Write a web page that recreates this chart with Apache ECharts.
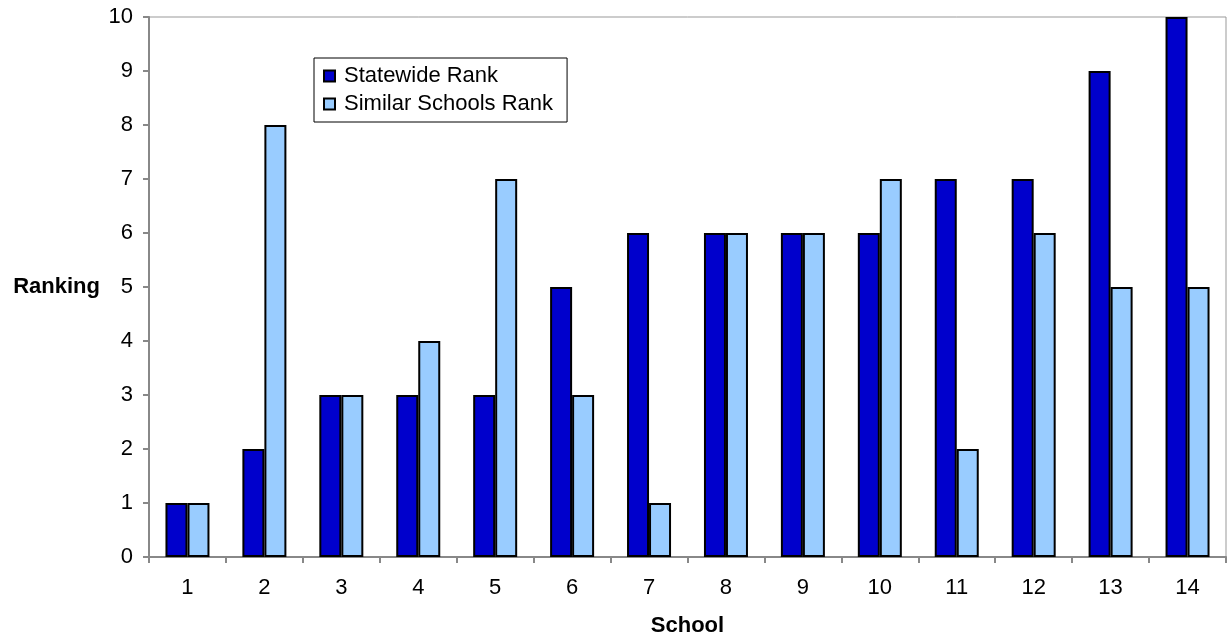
<!DOCTYPE html>
<html><head><meta charset="utf-8">
<script src="https://cdn.jsdelivr.net/npm/echarts@6/dist/echarts.min.js"></script>
<style>html,body{margin:0;padding:0;background:#fff}#c{width:1228px;height:635px}</style>
</head><body><div id="c"></div>
<script>
var categories = ['1','2','3','4','5','6','7','8','9','10','11','12','13','14'];
var statewide = [1,2,3,3,3,5,6,6,6,6,7,7,9,10];
var similar = [1,8,3,4,7,3,1,6,6,7,2,6,5,5];
var chart = echarts.init(document.getElementById('c'));
var font = 'Liberation Sans, Arial, sans-serif';
chart.setOption({
  animation: false,
  textStyle: {fontFamily: font},
  grid: {left: 149, right: 2, top: 17, bottom: 78, show: true, borderColor: '#999', borderWidth: 1,
         containLabel: false, outerBoundsMode: 'none'},
  legend: {
    left: 314, top: 58, orient: 'vertical', itemWidth: 11, itemHeight: 11, itemGap: 6,
    borderColor: '#000', borderWidth: 1, padding: [7, 14, 7, 9],
    textStyle: {fontFamily: font, fontSize: 22, color: '#000', padding: [0, 0, 0, 4]},
    data: [{name: 'Statewide Rank', icon: 'rect'}, {name: 'Similar Schools Rank', icon: 'rect'}]
  },
  xAxis: {
    type: 'category', data: categories,
    name: 'School', nameLocation: 'middle', nameGap: 58,
    nameTextStyle: {fontFamily: font, fontSize: 22, fontWeight: 'bold', color: '#000'},
    axisLine: {lineStyle: {color: '#888', width: 2}},
    axisTick: {show: true, length: 6, lineStyle: {color: '#888', width: 2}},
    axisLabel: {fontFamily: font, fontSize: 22, color: '#000', margin: 20}
  },
  yAxis: {
    type: 'value', min: 0, max: 10, interval: 1,
    name: 'Ranking', nameLocation: 'middle', nameRotate: 0, nameGap: 49,
    nameTextStyle: {fontFamily: font, fontSize: 22, fontWeight: 'bold', color: '#000'},
    axisLine: {show: true, lineStyle: {color: '#888', width: 2}},
    axisTick: {show: true, length: 6, lineStyle: {color: '#888', width: 2}},
    axisLabel: {fontFamily: font, fontSize: 22, color: '#000', margin: 16},
    splitLine: {show: false}
  },
  series: [
    {name: 'Statewide Rank', type: 'bar', data: statewide, barWidth: 22, barGap: '0%',
     itemStyle: {color: '#0000CC', borderColor: '#000', borderWidth: 2}},
    {name: 'Similar Schools Rank', type: 'bar', data: similar, barWidth: 22, barGap: '0%',
     itemStyle: {color: '#99CCFF', borderColor: '#000', borderWidth: 2}}
  ]
});
</script></body></html>
